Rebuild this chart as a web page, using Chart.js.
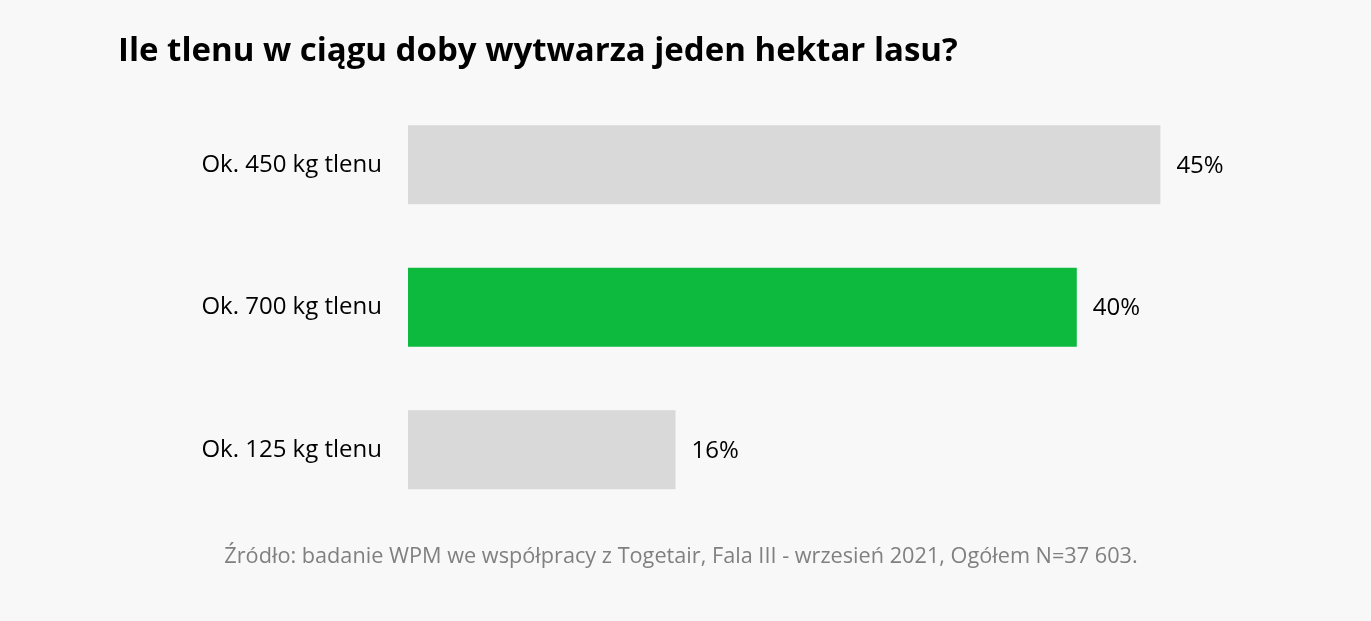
<!DOCTYPE html>
<html>
<head>
<meta charset="utf-8">
<script src="https://cdn.jsdelivr.net/npm/chart.js@4.4.1/dist/chart.umd.min.js"></script>
<style>
html,body{margin:0;padding:0;background:#f8f8f8;}
#wrap{width:1371px;height:621px;position:relative;}
</style>
</head>
<body>
<div id="wrap"><canvas id="c"></canvas></div>
<script>
const categories = ["Ok. 450 kg tlenu", "Ok. 700 kg tlenu", "Ok. 125 kg tlenu"];
const values = [45, 40, 16];
const barColors = ["#d9d9d9", "#0dba3e", "#d9d9d9"];
const titleText = "Ile tlenu w ciągu doby wytwarza jeden hektar lasu?";
const sourceText = "Źródło: badanie WPM we współpracy z Togetair, Fala III - wrzesień 2021, Ogółem N=37 603.";

const FONT = "'Open Sans', 'Noto Sans', sans-serif";

const valueLabels = {
  id: 'valueLabels',
  afterDatasetsDraw(chart) {
    const ctx = chart.ctx;
    const meta = chart.getDatasetMeta(0);
    ctx.save();
    ctx.font = "24px " + FONT;
    ctx.fillStyle = "#000";
    ctx.textBaseline = "middle";
    ctx.textAlign = "left";
    meta.data.forEach((bar, i) => {
      ctx.fillText(values[i] + "%", bar.x + 16, bar.y + 1);
    });
    ctx.restore();
  }
};

new Chart(document.getElementById('c'), {
  type: 'bar',
  data: {
    labels: categories,
    datasets: [{
      data: values,
      backgroundColor: barColors,
      borderWidth: 0,
      categoryPercentage: 1,
      barPercentage: 0.555
    }]
  },
  options: {
    indexAxis: 'y',
    responsive: true,
    maintainAspectRatio: false,
    animation: false,
    layout: { padding: { left: 118, right: 127, top: 0, bottom: 0 } },
    scales: {
      x: { display: false, min: 0, max: 50 },
      y: {
        grid: { display: false, drawTicks: false },
        border: { display: false },
        ticks: { color: "#000", font: { family: FONT, size: 24 }, padding: 26 },
        afterFit(scale) { scale.width = 290; }
      }
    },
    plugins: {
      legend: { display: false },
      tooltip: { enabled: false },
      title: {
        display: true,
        text: titleText,
        align: 'start',
        color: "#000",
        font: { family: FONT, size: 33, weight: 'bold' },
        padding: { top: 32, bottom: 22 }
      },
      subtitle: {
        display: true,
        text: sourceText,
        position: 'bottom',
        align: 'center',
        color: "#808080",
        font: { family: FONT, size: 21.7 },
        padding: { top: 23, bottom: 51 }
      }
    }
  },
  plugins: [valueLabels]
});
</script>
</body>
</html>
